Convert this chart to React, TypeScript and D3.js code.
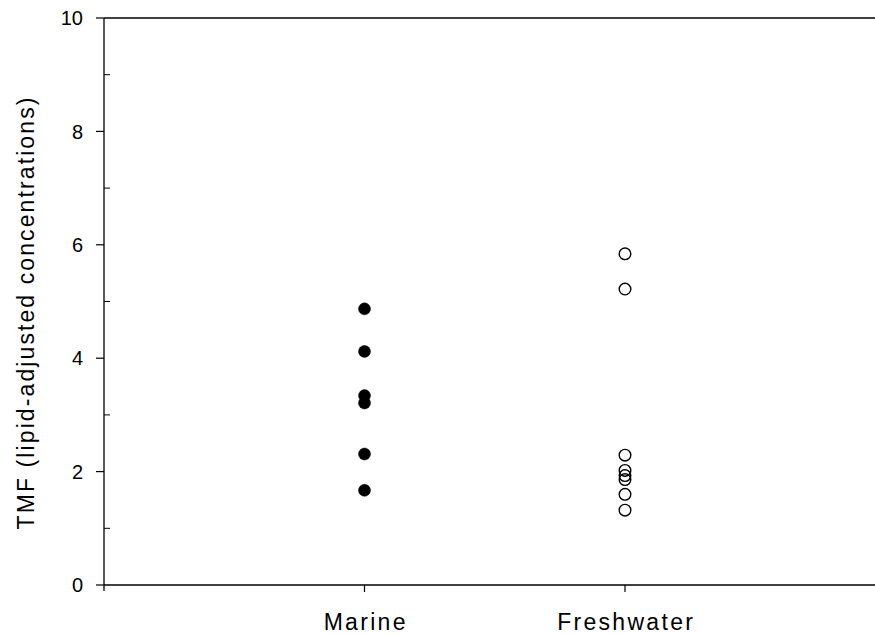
import React from "react";
import * as d3 from "d3";

const categories = ["Marine", "Freshwater"];
const marineValues = [4.87, 4.12, 3.34, 3.21, 2.31, 1.67];
const freshwaterValues = [5.84, 5.22, 2.29, 2.02, 1.93, 1.86, 1.6, 1.32];
const yTicks = [0, 2, 4, 6, 8, 10];
const yMinorTicks = [1, 3, 5, 7, 9];

export default function App() {
  const W = 875, H = 635;
  const left = 104, top = 18, bottom = 585;
  const y = d3.scaleLinear().domain([0, 10]).range([bottom, top]);
  const x = d3.scaleLinear().domain([0, 3]).range([left, left + 3 * 260.5]);
  const series = [
    { cat: 0, values: marineValues, filled: true },
    { cat: 1, values: freshwaterValues, filled: false },
  ];
  return (
    <svg width={W} height={H} style={{ position: "absolute", left: 0, top: 0 }} fontFamily="Arial, 'Liberation Sans', sans-serif">
      <rect width={W} height={H} fill="white" />
      <line x1={left} x2={W} y1={top} y2={top} stroke="black" strokeWidth={1.3} />
      <line x1={left} x2={W} y1={bottom} y2={bottom} stroke="black" strokeWidth={1.3} />
      <line x1={left} x2={left} y1={top} y2={bottom + 6} stroke="black" strokeWidth={1.3} />
      {yTicks.map((t) => (
        <g key={t}>
          <line x1={left - 8} x2={left} y1={y(t)} y2={y(t)} stroke="black" strokeWidth={1.2} />
          <text x={83} y={y(t)} dy="0.36em" textAnchor="end" fontSize={20}>{t}</text>
        </g>
      ))}
      {yMinorTicks.map((t) => (
        <line key={t} x1={left} x2={left + 6} y1={y(t)} y2={y(t)} stroke="black" strokeWidth={1} />
      ))}
      {categories.map((c, i) => (
        <g key={c}>
          <line x1={x(i + 1)} x2={x(i + 1)} y1={bottom} y2={bottom + 7} stroke="black" strokeWidth={1.2} />
          <text x={x(i + 1) + 1.2} y={630} textAnchor="middle" fontSize={23} letterSpacing={2.3}>{c}</text>
        </g>
      ))}
      <text transform={`translate(34,${(top + bottom) / 2 + 11}) rotate(-90)`} textAnchor="middle" fontSize={23} letterSpacing={2.1}>
        TMF (lipid-adjusted concentrations)
      </text>
      {series.map((s) =>
        s.values.map((v, j) => (
          <circle
            key={`${s.cat}-${j}`}
            cx={x(s.cat + 1)}
            cy={y(v)}
            r={s.filled ? 6 : 5.8}
            fill={s.filled ? "black" : "white"}
            fillOpacity={s.filled ? 1 : 0}
            stroke="black"
            strokeWidth={s.filled ? 0.5 : 1.4}
          />
        ))
      )}
    </svg>
  );
}
